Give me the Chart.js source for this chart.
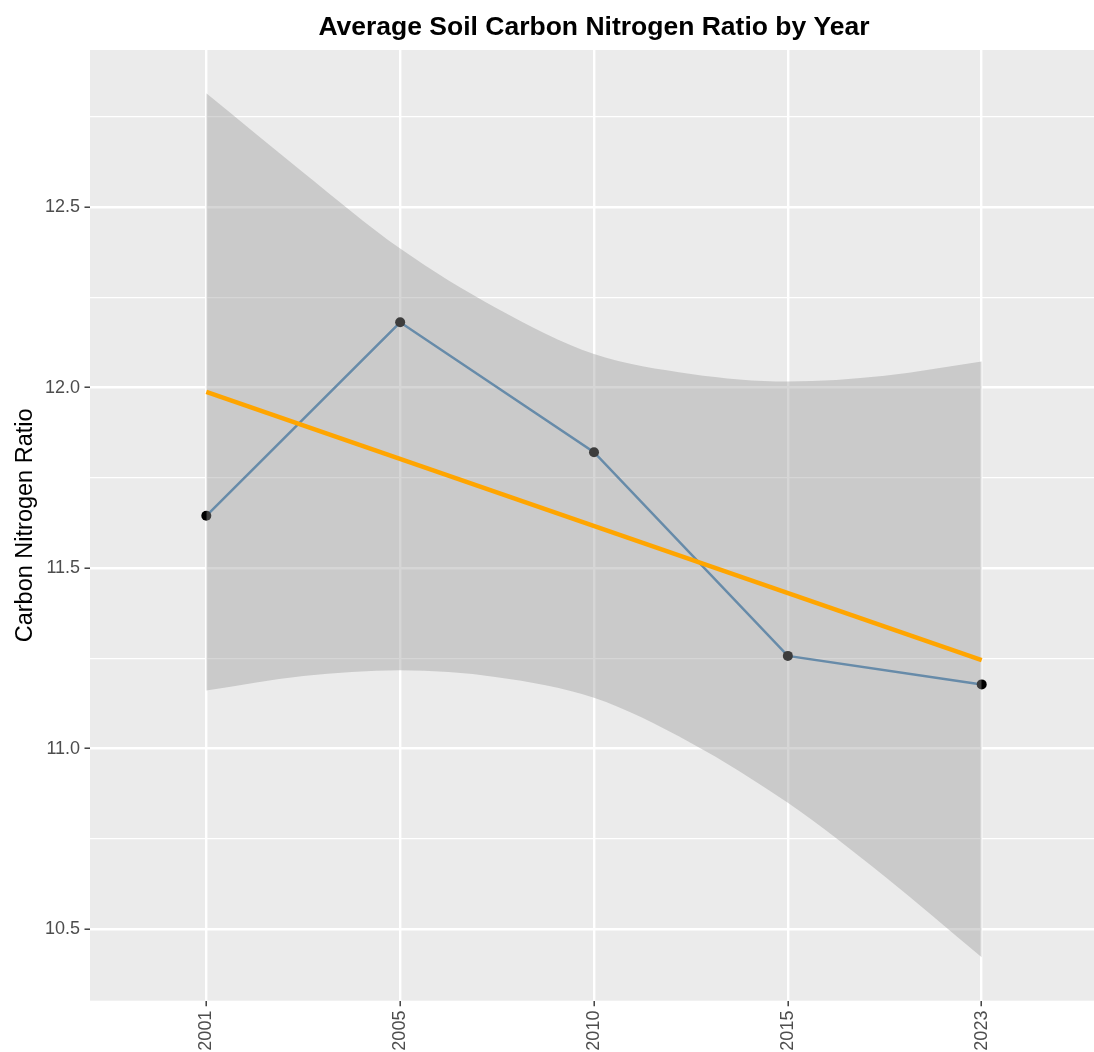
<!DOCTYPE html>
<html>
<head>
<meta charset="utf-8">
<title>Average Soil Carbon Nitrogen Ratio by Year</title>
<script src="https://cdn.jsdelivr.net/npm/chart.js@4.4.1/dist/chart.umd.min.js"></script>
<style>
  html, body { margin: 0; padding: 0; background: #ffffff; overflow: hidden; }
  canvas { display: block; }
</style>
</head>
<body>
<!-- the panel runs slightly past the right edge of the page -->
<canvas id="chart" width="1103" height="1052" style="width:1103px;height:1052px"></canvas>
<script>
// Survey years (evenly spaced, treated as categories)
const years = ['2001', '2005', '2010', '2015', '2023'];
// Mean soil C:N ratio per survey year
const ratio = [11.645, 12.181, 11.821, 11.257, 11.178];

// Linear trend through the yearly means, at the first and last year
const trendYears = ['2001', '2023'];
const trendValues = [11.988, 11.245];

// 95% confidence band of the trend, sampled every half step from the first year
const bandSteps = [0, 0.5, 1, 1.5, 2, 2.5, 3, 3.5, 4];
const bandUpper = [12.815, 12.596, 12.385, 12.219, 12.093, 12.038, 12.017, 12.033, 12.072];
const bandLower = [11.161, 11.201, 11.217, 11.198, 11.141, 11.016, 10.850, 10.646, 10.422];

// Value axis ticks: labelled breaks and the minor breaks between them
const yMajorTicks = [10.5, 11.0, 11.5, 12.0, 12.5];
const yMinorTicks = [10.75, 11.25, 11.75, 12.25, 12.75];

const FONT = "'Liberation Sans', Arial, Helvetica, sans-serif";
const isMajor = v => yMajorTicks.includes(v);
const yearPos = y => years.indexOf(y) + 1;

// Grey panel behind the plotting area, white page around it
const panelBackground = {
  id: 'panelBackground',
  beforeDraw(chart) {
    const { ctx, chartArea: a } = chart;
    ctx.save();
    ctx.fillStyle = '#ffffff';
    ctx.fillRect(0, 0, chart.width, chart.height);
    ctx.fillStyle = '#EBEBEB';
    ctx.fillRect(a.left, a.top, a.right - a.left, a.bottom - a.top);
    ctx.restore();
  }
};

new Chart(document.getElementById('chart'), {
  type: 'line',
  data: {
    datasets: [
      {
        label: 'Linear trend',
        data: trendYears.map((y, i) => ({ x: yearPos(y), y: trendValues[i] })),
        borderColor: '#FFA500',
        borderWidth: 4.5,
        pointRadius: 0,
        fill: false,
        order: 1
      },
      {
        label: 'Upper bound',
        data: bandSteps.map((s, i) => ({ x: 1 + s, y: bandUpper[i] })),
        borderColor: 'rgba(0,0,0,0)',
        borderWidth: 0,
        pointRadius: 0,
        cubicInterpolationMode: 'monotone',
        fill: '+1',
        backgroundColor: 'rgba(153,153,153,0.4)',
        order: 2
      },
      {
        label: 'Lower bound',
        data: bandSteps.map((s, i) => ({ x: 1 + s, y: bandLower[i] })),
        borderColor: 'rgba(0,0,0,0)',
        borderWidth: 0,
        pointRadius: 0,
        cubicInterpolationMode: 'monotone',
        fill: false,
        order: 3
      },
      {
        label: 'Carbon Nitrogen Ratio',
        data: years.map((y, i) => ({ x: i + 1, y: ratio[i] })),
        borderColor: '#4682B4',
        borderWidth: 2.5,
        pointRadius: 5,
        pointBackgroundColor: '#000000',
        pointBorderWidth: 0,
        fill: false,
        order: 4
      }
    ]
  },
  options: {
    responsive: false,
    devicePixelRatio: 1,
    animation: false,
    layout: { padding: 0 },
    plugins: {
      legend: { display: false },
      tooltip: { enabled: false },
      title: {
        display: true,
        text: 'Average Soil Carbon Nitrogen Ratio by Year',
        color: '#000000',
        fullSize: false,
        font: { family: FONT, size: 26.5, weight: 'bold' },
        padding: { top: 12, bottom: 6.2 }
      }
    },
    scales: {
      x: {
        type: 'linear',
        min: 0.4,
        max: 5.6,
        afterBuildTicks: s => { s.ticks = years.map((_, i) => ({ value: i + 1 })); },
        afterFit: s => { s.height = 51.3; },
        border: { display: false },
        grid: {
          color: '#FFFFFF',
          lineWidth: 2.4,
          tickLength: 5.5,
          tickColor: '#333333',
          tickWidth: 1.4
        },
        ticks: {
          callback: v => years[Math.round(v) - 1] ?? '',
          autoSkip: false,
          minRotation: 90,
          maxRotation: 90,
          padding: 4.4,
          color: '#4D4D4D',
          font: { family: FONT, size: 18 }
        }
      },
      y: {
        type: 'linear',
        min: 10.302,
        max: 12.935,
        afterBuildTicks: s => {
          s.ticks = [...yMajorTicks, ...yMinorTicks].sort((a, b) => a - b).map(v => ({ value: v }));
        },
        afterFit: s => { s.width = 90; },
        border: { display: false },
        grid: {
          color: '#FFFFFF',
          lineWidth: c => (c.tick && isMajor(c.tick.value)) ? 2.4 : 1.2,
          tickLength: 5.5,
          tickColor: c => (c.tick && isMajor(c.tick.value)) ? '#333333' : 'rgba(0,0,0,0)',
          tickWidth: 1.4
        },
        ticks: {
          callback: v => isMajor(v) ? v.toFixed(1) : '',
          autoSkip: false,
          padding: 4.4,
          color: '#4D4D4D',
          font: { family: FONT, size: 18 }
        },
        title: {
          display: true,
          text: 'Carbon Nitrogen Ratio',
          color: '#000000',
          font: { family: FONT, size: 23.5 },
          padding: { top: 11, bottom: 0 }
        }
      }
    }
  },
  plugins: [panelBackground]
});
</script>
</body>
</html>
